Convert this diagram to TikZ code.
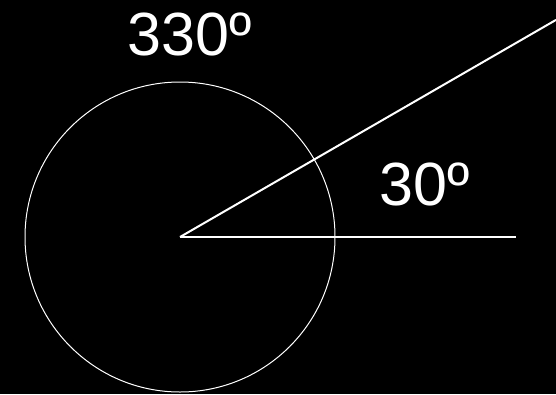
\documentclass[tikz,border=0pt]{standalone}
\usepackage{fontspec}
\setmainfont{Liberation Sans}
\begin{document}
\begin{tikzpicture}[x=1pt,y=-1pt,
  ray/.style={draw=white,line width=2pt},
  ring/.style={draw=white,line width=1pt},
  lbl/.style={text=white,font=\fontsize{61}{61}\selectfont,inner sep=0pt,anchor=base west}]
\fill[black] (0,0) rectangle (556,394);
\useasboundingbox (0,0) rectangle (556,394);
\coordinate (c) at (180,237);
\coordinate (h) at (516,237);
\coordinate (d) at (556,19.9);
\draw[ring] (c) circle[radius=155];
\draw[ray] (c) -- (h);
\draw[ray] (c) -- (d);
\node[lbl] (a1) at (127.5,55) {330º};
\node[lbl] (a2) at (379.5,205) {30º};
\end{tikzpicture}
\end{document}
